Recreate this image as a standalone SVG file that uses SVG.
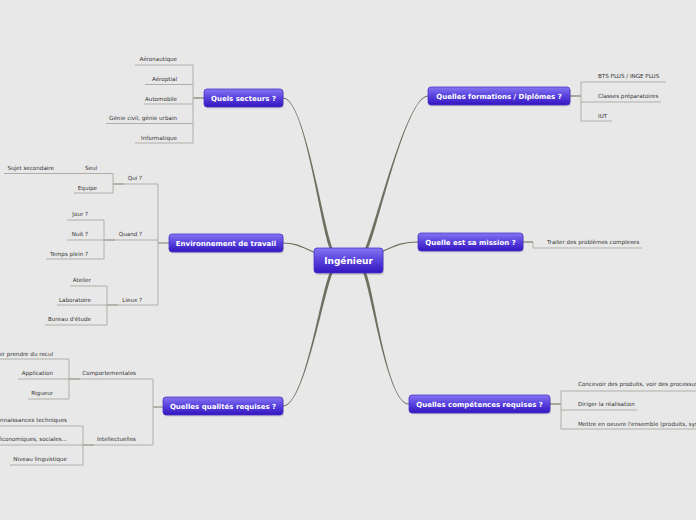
<svg xmlns="http://www.w3.org/2000/svg" width="696" height="520" viewBox="0 0 696 520">
<defs>
<linearGradient id="ng" x1="0" y1="0" x2="0" y2="1">
<stop offset="0" stop-color="#8676f0"/>
<stop offset="0.45" stop-color="#5c46e0"/>
<stop offset="1" stop-color="#3414bf"/>
</linearGradient>
<style>
.bg{fill:#e8e8e8}
.node{fill:url(#ng);stroke:#4b34c8;stroke-width:0.8}
.shadow{fill:#000;opacity:0.12}
.nt{font-family:"DejaVu Sans Bold","DejaVu Sans",sans-serif;font-weight:bold;font-size:7px;fill:#fff;text-anchor:middle;dominant-baseline:central}
.ct{font-size:9px}
.st{font-family:"DejaVu Sans",sans-serif;font-size:5.6px;fill:#333;dominant-baseline:central}
.e{text-anchor:end}
.ul{stroke:#aeaea6;stroke-width:1;fill:none}
.dk{stroke:#7c7c6e;stroke-width:1.2;fill:none}
.cv{fill:#6f6f60}
.cl{stroke:#6f6f60;stroke-width:1.2;fill:none}
</style>
</defs>
<rect class="bg" x="0" y="0" width="696" height="520"/>
<g id="connectors">
<path class="cv" d="M283,97.5 C305,97.5 323.5,230 333.5,250 L330.5,250 C320.5,230 305,98.5 283,98.5 Z"/>
<path class="cv" d="M428,96.5 C406,96.5 377.5,230 367.5,250 L364.5,250 C374.5,230 406,95.5 428,95.5 Z"/>
<path class="cv" d="M283,405.5 C305,405.5 320.5,291 330.5,271 L333.5,271 C323.5,291 305,406.5 283,406.5 Z"/>
<path class="cv" d="M409,404.5 C387,404.5 371.5,291 362.5,271 L365.5,271 C374.5,291 387,403.5 409,403.5 Z"/>
<path class="cl" d="M283,243 C298,243 305,249 316,253"/>
<path class="cl" d="M418,242 C400,242 393,247 381,252"/>
<!-- secteurs -->
<path class="dk" d="M193,98 H204"/>
<path class="ul" d="M193,65 V143 M135,65 H193 M145,84.5 H193 M144,104 H193 M106,123.5 H193 M135,143 H193"/>
<!-- environnement -->
<path class="dk" d="M158,243 H169 M113,184 H124 M104,240 H115 M107,305 H118"/>
<path class="ul" d="M158,184 V305 M124,184 H158 M115,240 H158 M118,305 H158"/>
<path class="ul" d="M113,173.5 V193 M4,173.5 H113 M74,193 H113"/>
<path class="ul" d="M104,220 V259 M67,220 H104 M67,240 H104 M46,259 H104"/>
<path class="ul" d="M107,286 V325 M70,286 H107 M57,305 H107 M45,325 H107"/>
<!-- qualites -->
<path class="dk" d="M153,407 H163 M69,379 H80 M83,445 H94"/>
<path class="ul" d="M153,379 V445 M80,379 H153 M94,445 H153"/>
<path class="ul" d="M69,359 V399 M0,359 H69 M18,379 H69 M28,399 H69"/>
<path class="ul" d="M83,426 V465 M0,426 H83 M0,445 H83 M10,465 H83"/>
<!-- formations -->
<path class="dk" d="M570,96 H581"/>
<path class="ul" d="M581,82 V121 M581,82 H666 M581,102 H661 M581,121 H612"/>
<!-- mission -->
<path class="dk" d="M523,242 H533"/>
<path class="ul" d="M533,242 V248 H642"/>
<!-- competences -->
<path class="dk" d="M550,404 H561"/>
<path class="ul" d="M561,391 V429 M561,391 H700 M561,410 H637 M561,429 H700"/>
</g>
<g id="n-center">
<rect class="shadow" x="315" y="250" width="69" height="25" rx="3"/>
<rect class="node" x="314" y="248" width="69" height="25" rx="3"/>
<text class="nt ct" x="348.5" y="261">Ingénieur</text>
</g>
<g id="n-secteurs">
<rect class="shadow" x="205" y="90.5" width="79" height="18" rx="3"/>
<rect class="node" x="204" y="89" width="79" height="18" rx="3"/>
<text class="nt" x="243.5" y="98.5">Quels secteurs ?</text>
<text class="st e" x="177" y="59">Aéronautique</text>
<text class="st e" x="177" y="79">Aéroptial</text>
<text class="st e" x="177" y="98.5">Automobile</text>
<text class="st e" x="177" y="118">Génie civil, génie urbain</text>
<text class="st e" x="177" y="137.5">Informatique</text>
</g>
<g id="n-environnement">
<rect class="shadow" x="170" y="235.5" width="114" height="18" rx="3"/>
<rect class="node" x="169" y="234" width="114" height="18" rx="3"/>
<text class="nt" x="226" y="243.5">Environnement de travail</text>
<text class="st e" x="142" y="178">Qui ?</text>
<text class="st e" x="97" y="168">Seul</text>
<text class="st e" x="54" y="168">Sujet secondaire</text>
<text class="st e" x="97" y="187.5">Equipe</text>
<text class="st e" x="142" y="234">Quand ?</text>
<text class="st e" x="88" y="214">Jour ?</text>
<text class="st e" x="88" y="234">Nuit ?</text>
<text class="st e" x="88" y="253.5">Temps plein ?</text>
<text class="st e" x="142" y="299.5">Lieux ?</text>
<text class="st e" x="91" y="280">Atelier</text>
<text class="st e" x="91" y="299.5">Laboratoire</text>
<text class="st e" x="91" y="319">Bureau d'étude</text>
</g>
<g id="n-qualites">
<rect class="shadow" x="164" y="398.5" width="120" height="18" rx="3"/>
<rect class="node" x="163" y="397" width="120" height="18" rx="3"/>
<text class="nt" x="223" y="406.5">Quelles qualités requises ?</text>
<text class="st e" x="136" y="373">Comportementales</text>
<text class="st e" x="53" y="354">Savoir prendre du recul</text>
<text class="st e" x="53" y="373">Application</text>
<text class="st e" x="53" y="393">Rigueur</text>
<text class="st e" x="136" y="439">Intellectuelles</text>
<text class="st e" x="67" y="420">Connaissances techniques</text>
<text class="st e" x="67" y="439">économiques, sociales...</text>
<text class="st e" x="67" y="459">Niveau linguistique</text>
</g>
<g id="n-formations">
<rect class="shadow" x="429" y="88.5" width="142" height="18" rx="3"/>
<rect class="node" x="428" y="87" width="142" height="18" rx="3"/>
<text class="nt" x="499" y="96.5">Quelles formations / Diplômes ?</text>
<text class="st" x="598" y="76">BTS PLUS / INGE PLUS</text>
<text class="st" x="598" y="96">Classes préparatoires</text>
<text class="st" x="598" y="115.5">IUT</text>
</g>
<g id="n-mission">
<rect class="shadow" x="419" y="234.5" width="105" height="18" rx="3"/>
<rect class="node" x="418" y="233" width="105" height="18" rx="3"/>
<text class="nt" x="470.5" y="242.5">Quelle est sa mission ?</text>
<text class="st" x="547" y="242">Traiter des problèmes complexes</text>
</g>
<g id="n-competences">
<rect class="shadow" x="410" y="396.5" width="141" height="18" rx="3"/>
<rect class="node" x="409" y="395" width="141" height="18" rx="3"/>
<text class="nt" x="479.5" y="404.5">Quelles compétences requises ?</text>
<text class="st" x="578" y="384">Concevoir des produits, voir des processus</text>
<text class="st" x="578" y="404">Diriger la réalisation</text>
<text class="st" x="578" y="423.5">Mettre en oeuvre l'ensemble (produits, systèmes)</text>
</g>
</svg>
